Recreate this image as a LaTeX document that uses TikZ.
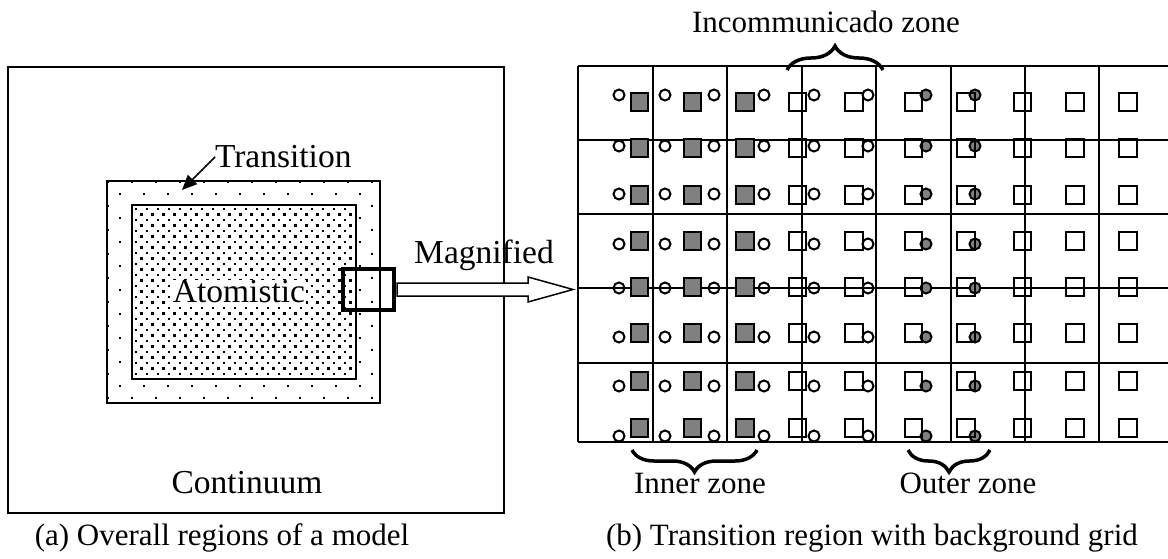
\documentclass[tikz,border=0pt]{standalone}
\usepackage{fontspec}
\setmainfont{Liberation Serif}
\usetikzlibrary{arrows.meta,positioning,calc,decorations.pathreplacing}

\definecolor{shade}{gray}{0.5}

\begin{document}
\begin{tikzpicture}[
  x=1pt, y=-1pt,
  every node/.style={font=\fontsize{31}{37}\selectfont, inner sep=0pt, outer sep=0pt},
  biglabel/.style={font=\fontsize{33.5}{40}\selectfont},
  region/.style={draw, minimum width=#1, anchor=north west},
  gridline/.style={line width=2pt},
  cell/.style={draw, rectangle, line width=2.2pt, minimum size=17.5pt},
  ring/.style={draw, circle, line width=2pt, minimum size=11pt},
  pointer/.style={-{Triangle[length=15pt,width=13pt]}, line width=1.5pt},
  hollowarrow/.style={draw, fill=white, line width=1.5pt, line join=miter},
  zonebrace/.style={decorate, decoration={brace, amplitude=#1}, line width=3.5pt},
]
\useasboundingbox (0,0) rectangle (1168,559);

% (a) model regions
\node[region=496, minimum height=446, line width=2pt] (model) at (8,67) {};
\node[region=273, minimum height=222, line width=1.7pt] (trans) at (107,181) {};
\begin{scope}
  \clip (trans.north west) rectangle (trans.south east);
  \foreach \i in {-1,...,11}
    \foreach \j in {-1,...,9} {
      \fill (120+24*\i-1.3, 194+24*\j-1.3) rectangle ++(2.6,2.6);
      \fill (132+24*\i-1.3, 206+24*\j-1.3) rectangle ++(2.6,2.6);
    }
\end{scope}
\node[region=224, minimum height=174, line width=1.5pt, fill=white] (atom) at (132,205) {};
\begin{scope}
  \clip (atom.north west) rectangle (atom.south east);
  \foreach \i in {0,...,20}
    \foreach \j in {0,...,15} {
      \fill (136+11*\i-1.3, 209+11*\j-1.3) rectangle ++(2.6,2.6);
      \fill (141.5+11*\i-1.3, 214.5+11*\j-1.3) rectangle ++(2.6,2.6);
    }
\end{scope}
\node[biglabel, fill=white, inner sep=0.5pt] (atomlabel) at (239,292) {Atomistic};
\node[biglabel, anchor=west] (translabel) at (215,157) {Transition};
\coordinate (transtip) at (182,190);
\draw[pointer] (translabel.west) -- (transtip);
\node[biglabel] (contlabel) at (247,483) {Continuum};
\node[draw, line width=3.5pt, minimum width=51, minimum height=41] (magbox) at (368.5,289.5) {};

% magnification arrow
\coordinate (magtip) at (573,289.5);
\draw[hollowarrow] ($(magbox.east)+(3,-6.5)$) -- ($(magtip)+(-45,-6.5)$)
  -- ($(magtip)+(-45,-12.5)$) -- (magtip) -- ($(magtip)+(-45,12.5)$)
  -- ($(magtip)+(-45,6.5)$) -- ($(magbox.east)+(3,6.5)$) -- cycle;
\node[biglabel] (maglabel) at (484,255) {Magnified};

% (b) background grid
\foreach \x in {578,653,727,802,876,951,1025,1099}
  \draw[gridline] (\x,66) -- (\x,442);
\foreach \y in {66,140,214,288,363,442}
  \draw[gridline] (578,\y) -- (1168,\y);

% particles, row by row
\foreach \sy/\cy [count=\r] in {102/95,148/146,195/194,241/244,287/288,333/337,381/386,428/436} {
  \foreach \cx [count=\c] in {619,665,714,764,814,868}
    \node[ring] (ring-\r-\c) at (\cx,\cy) {};
  \foreach \cx [count=\c from 7] in {926,975}
    \node[ring, fill=shade] (ring-\r-\c) at (\cx,\cy) {};
  \foreach \sx [count=\c] in {639.5,692.5,745}
    \node[cell, fill=shade] (cell-\r-\c) at (\sx,\sy) {};
  \foreach \sx [count=\c from 4] in {797.5,854,913.5,966,1022.5,1075,1128}
    \node[cell] (cell-\r-\c) at (\sx,\sy) {};
}

% zones
\draw[zonebrace=24pt] (787,70) -- (883,70);
\node (incomlabel) at (826,22) {Incommunicado zone};
\draw[zonebrace=22pt] (757,450) -- (632,450);
\node (innerlabel) at (700,483) {Inner zone};
\draw[zonebrace=22pt] (990,450) -- (908,450);
\node (outerlabel) at (968,483) {Outer zone};

% captions
\node (capa) at (222,538) {(a) Overall regions of a model};
\node (capb) at (872,538) {(b) Transition region with background grid};
\end{tikzpicture}
\end{document}
